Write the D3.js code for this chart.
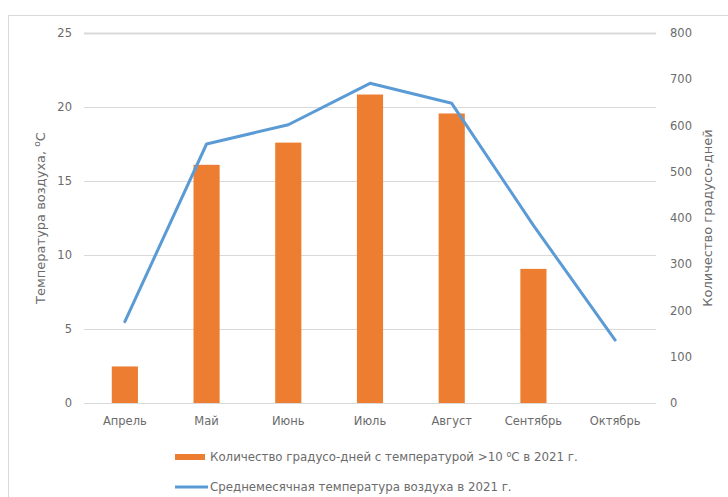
<!DOCTYPE html>
<html><head><meta charset="utf-8">
<script src="https://cdn.jsdelivr.net/npm/d3@7/dist/d3.min.js"></script>
<style>
html,body{margin:0;padding:0;background:#fff;}
text{font-family:"DejaVu Sans",sans-serif;fill:#6b6b6b;}
</style></head>
<body>
<svg id="c" width="728" height="497"></svg>
<script>
const months = ["Апрель","Май","Июнь","Июль","Август","Сентябрь","Октябрь"];
const degreeDays = [79, 515, 563, 667, 626, 290, 0];
const temperature = [5.5, 17.5, 18.8, 21.6, 20.25, 12.0, 4.25];
const leftTicks = [0,5,10,15,20,25];
const rightTicks = [0,100,200,300,400,500,600,700,800];

const svg = d3.select("#c");
const m = {left:84, right:656, top:33, bottom:403};

svg.append("rect").attr("x",8.5).attr("y",15.5).attr("width",740).attr("height",500)
  .attr("fill","#fff").attr("stroke","#d9d9d9").attr("stroke-width",1);

const x = d3.scaleBand().domain(months).range([m.left,m.right]).padding(0);
const yL = d3.scaleLinear().domain([0,25]).range([m.bottom,m.top]);
const yR = d3.scaleLinear().domain([0,800]).range([m.bottom,m.top]);

// gridlines
svg.append("g").selectAll("line").data(leftTicks).join("line")
  .attr("x1",m.left).attr("x2",m.right)
  .attr("y1",d=>Math.round(yL(d))+0.5).attr("y2",d=>Math.round(yL(d))+0.5)
  .attr("stroke","#d9d9d9").attr("stroke-width",d=>d===25?2:1);

// left axis
const axL = svg.append("g").attr("transform",`translate(${m.left-12},0)`)
  .call(d3.axisLeft(yL).tickValues(leftTicks).tickSize(0).tickPadding(0));
axL.select(".domain").remove();
axL.selectAll("text").attr("font-size",11.5).attr("fill","#707070");
axL.attr("font-family",null);

// right axis
const axR = svg.append("g").attr("transform",`translate(${m.right+14},0)`)
  .call(d3.axisRight(yR).tickValues(rightTicks).tickSize(0).tickPadding(0));
axR.select(".domain").remove();
axR.selectAll("text").attr("font-size",11.5).attr("fill","#707070");
axR.attr("font-family",null);

// x axis labels
const axB = svg.append("g").attr("transform",`translate(0,${m.bottom+14})`)
  .call(d3.axisBottom(x).tickSize(0).tickPadding(0));
axB.select(".domain").remove();
axB.selectAll("text").attr("font-size",11.5).attr("fill","#707070").attr("dy","0.71em");
axB.attr("font-family",null);

// bars
const bw = x.step()*0.32;
svg.append("g").selectAll("rect").data(months.map((mo,i)=>({mo,v:degreeDays[i]})).filter(d=>d.v>0)).join("rect")
  .attr("x",d=>x(d.mo)+x.step()/2-bw/2).attr("width",bw)
  .attr("y",d=>yR(d.v)).attr("height",d=>yR(0)-yR(d.v))
  .attr("fill","#ED7D31");

// line
const line = d3.line().x((d,i)=>x(months[i])+x.step()/2).y(d=>yL(d));
svg.append("path").datum(temperature).attr("d",line)
  .attr("fill","none").attr("stroke","#5B9BD5").attr("stroke-width",3)
  .attr("stroke-linejoin","round").attr("stroke-linecap","round");

// axis titles
const tl = svg.append("text").attr("transform",`translate(45,${(m.top+m.bottom)/2}) rotate(-90)`)
  .attr("text-anchor","middle").attr("font-size",13).attr("fill","#595959");
tl.append("tspan").text("Температура воздуха, ");
tl.append("tspan").attr("baseline-shift","super").attr("font-size",9).text("о");
tl.append("tspan").text("С");

svg.append("text").attr("transform",`translate(712,${(m.top+m.bottom)/2}) rotate(-90)`)
  .attr("text-anchor","middle").attr("font-size",13).attr("fill","#595959")
  .text("Количество градусо-дней");

// legend
svg.append("rect").attr("x",175).attr("y",454).attr("width",30).attr("height",6).attr("fill","#ED7D31");
const lt = svg.append("text").attr("x",210).attr("y",461).attr("font-size",11.8).attr("fill","#595959");
lt.append("tspan").text("Количество градусо-дней с температурой >10 ");
lt.append("tspan").attr("baseline-shift","super").attr("font-size",8).text("о");
lt.append("tspan").text("С в 2021 г.");

svg.append("line").attr("x1",175).attr("x2",208).attr("y1",487).attr("y2",487)
  .attr("stroke","#5B9BD5").attr("stroke-width",3);
svg.append("text").attr("x",210).attr("y",491).attr("font-size",11.8).attr("fill","#595959")
  .text("Среднемесячная температура воздуха в 2021 г.");
</script>
</body></html>
